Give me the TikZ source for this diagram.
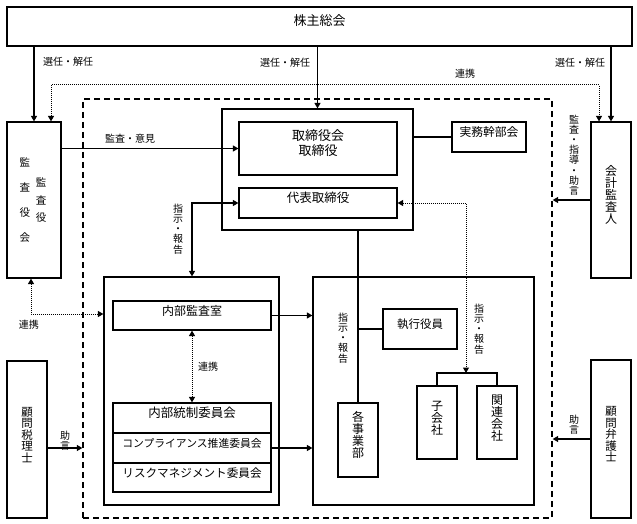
\documentclass[tikz,border=0pt]{standalone}
\usepackage{fontspec}
\setmainfont{Noto Sans CJK JP}
\usetikzlibrary{arrows.meta,fit,calc}
\tikzset{
  box/.style={draw, line width=1.2pt, inner sep=0pt, align=center},
  conn/.style={line width=1.1pt},
  arr/.style={conn, -{Triangle[length=5.5pt,width=6pt]}},
  dots/.style={line width=1pt, dash pattern=on 1pt off 1pt},
  dotarr/.style={dots, {Triangle[length=5.5pt,width=6pt]}-{Triangle[length=5.5pt,width=6pt]}},
  lbl/.style={inner sep=0pt, font=\fontsize{10}{10}\selectfont},
  vlbl/.style={inner sep=0pt, align=center, font=\fontsize{10}{10.2}\selectfont},
  fa/.style={font=\fontsize{#1}{#1}\selectfont},
  vt/.style={font=\fontsize{#1}{#1}\selectfont},
}
\begin{document}
\begin{tikzpicture}[x=1pt,y=-1pt]
\useasboundingbox[fill=white] (0,0) rectangle (637,524);

% boxes
\node[box, fit={(7,7) (632,46)}, fa=13] (sokai) {株主総会};
\node[box, fit={(7,122) (61,278)}] (kansayaku) {};
\node[inner sep=0pt, align=center, font=\fontsize{10.5}{24.7}\selectfont] (kt1) at (25,200) {監\\査\\役\\会};
\node[inner sep=0pt, align=center, font=\fontsize{10.5}{17.5}\selectfont] (kt2) at (41,200.5) {監\\査\\役};
\node[box, fit={(591,122) (631,278)}, vt=12] (kaikei) {会\\計\\監\\査\\人};
\node[draw, line width=1.3pt, dash pattern=on 6pt off 4pt, inner sep=0pt, fit={(83,99) (552,518)}] (outer) {};
\node[box, fit={(222,109) (413,230)}] (board) {};
\node[box, fit={(239,122) (397,175)}, font=\fontsize{13}{14.5}\selectfont] (tori) {取締役会\\取締役};
\node[box, fit={(239,188) (397,218)}, fa=12.5] (daihyo) {代表取締役};
\node[box, fit={(452,122) (526,152)}, fa=11.8] (jimu) {実務幹部会};
\node[box, fit={(104,277) (279,505)}] (naibu) {};
\node[box, fit={(113,301) (271,330)}, fa=12] (kansashitsu) {内部監査室};
\node[box, fit={(113,403) (271,433)}, fa=12.5] (tousei) {内部統制委員会};
\node[box, fit={(113,433) (271,463)}, fa=10.8] (comp) {コンプライアンス推進委員会};
\node[box, fit={(113,463) (271,492)}, fa=11.6] (risk) {リスクマネジメント委員会};
\node[box, fit={(313,277) (534,505)}] (right) {};
\node[box, fit={(338,403) (378,477)}, vt=12] (jigyo) {各\\事\\業\\部};
\node[box, fit={(383,309) (457,349)}, fa=11.5] (shikko) {執行役員};
\node[box, fit={(417,386) (457,459)}, vt=12] (ko) {子\\会\\社};
\node[box, fit={(477,386) (517,459)}, vt=12] (kanren) {関\\連\\会\\社};
\node[box, fit={(7,361) (47,518)}, vt=11.5] (zeiri) {顧\\問\\税\\理\\士};
\node[box, fit={(591,360) (631,518)}, vt=11.5] (bengo) {顧\\問\\弁\\護\\士};

% labels
\node[lbl] (l1) at (68,62) {選任・解任};
\node[lbl] (l2) at (285,63) {選任・解任};
\node[lbl] (l3) at (580,63) {選任・解任};
\node[lbl] (l4) at (465,74) {連携};
\node[lbl] (l5) at (130,139) {監査・意見};
\node[vlbl] (l6) at (178,229) {指\\示\\・\\報\\告};
\node[lbl] (l7) at (29,325) {連携};
\node[lbl] (l8) at (208,367) {連携};
\node[vlbl] (l9) at (65,441) {助\\言};
\node[vlbl] (l10) at (574,155) {監\\査\\・\\指\\導\\・\\助\\言};
\node[vlbl] (l11) at (574,425) {助\\言};
\node[vlbl] (l12) at (343,338) {指\\示\\・\\報\\告};
\node[vlbl] (l13) at (479,329) {指\\示\\・\\報\\告};

% coordinates
\coordinate (c1) at (51,85);
\coordinate (c2) at (599,85);
\coordinate (c3) at (192,203);
\coordinate (c4) at (31,314);
\coordinate (c5) at (466,373);

% connectors
\draw[arr] (sokai.south -| kansayaku.north) -- (kansayaku.north);
\draw[arr] (sokai.south -| kaikei.north) -- (kaikei.north);
\draw[arr] (sokai.south -| board.north) -- (board.north);
\draw[dotarr] (kansayaku.north -| c1) -- (c1) -- (c2) -- (kaikei.north -| c2);
\draw[arr] (kansayaku.east |- tori.west) -- (tori.west);
\draw[conn, {Triangle[length=5.5pt,width=6pt]}-{Triangle[length=5.5pt,width=6pt]}] (daihyo.west) -- (c3) -- (naibu.north -| c3);
\draw[dotarr] (kansayaku.south -| c4) -- (c4) -- (naibu.west |- c4);
\draw[arr] (kansashitsu.east) -- (right.west |- kansashitsu.east);
\draw[dotarr] (kansashitsu.south) -- (tousei.north);
\draw[arr] (comp.east) -- (right.west |- comp.east);
\draw[arr] (zeiri.east |- comp.east) -- (outer.west |- comp.east);
\draw[arr] (kaikei.west) -- (outer.east |- kaikei.west);
\draw[arr] (bengo.west) -- (outer.east |- bengo.west);
\draw[conn] (board.south -| jigyo.north) -- (jigyo.north);
\draw[conn] (shikko.west) -- (jigyo.north |- shikko.west);
\draw[conn] (board.east |- jimu.west) -- (jimu.west);
\draw[conn] (ko.north) -- (ko.north |- c5) -- (kanren.north |- c5) -- (kanren.north);
\draw[dotarr] (daihyo.east) -| (c5);
\end{tikzpicture}
\end{document}
